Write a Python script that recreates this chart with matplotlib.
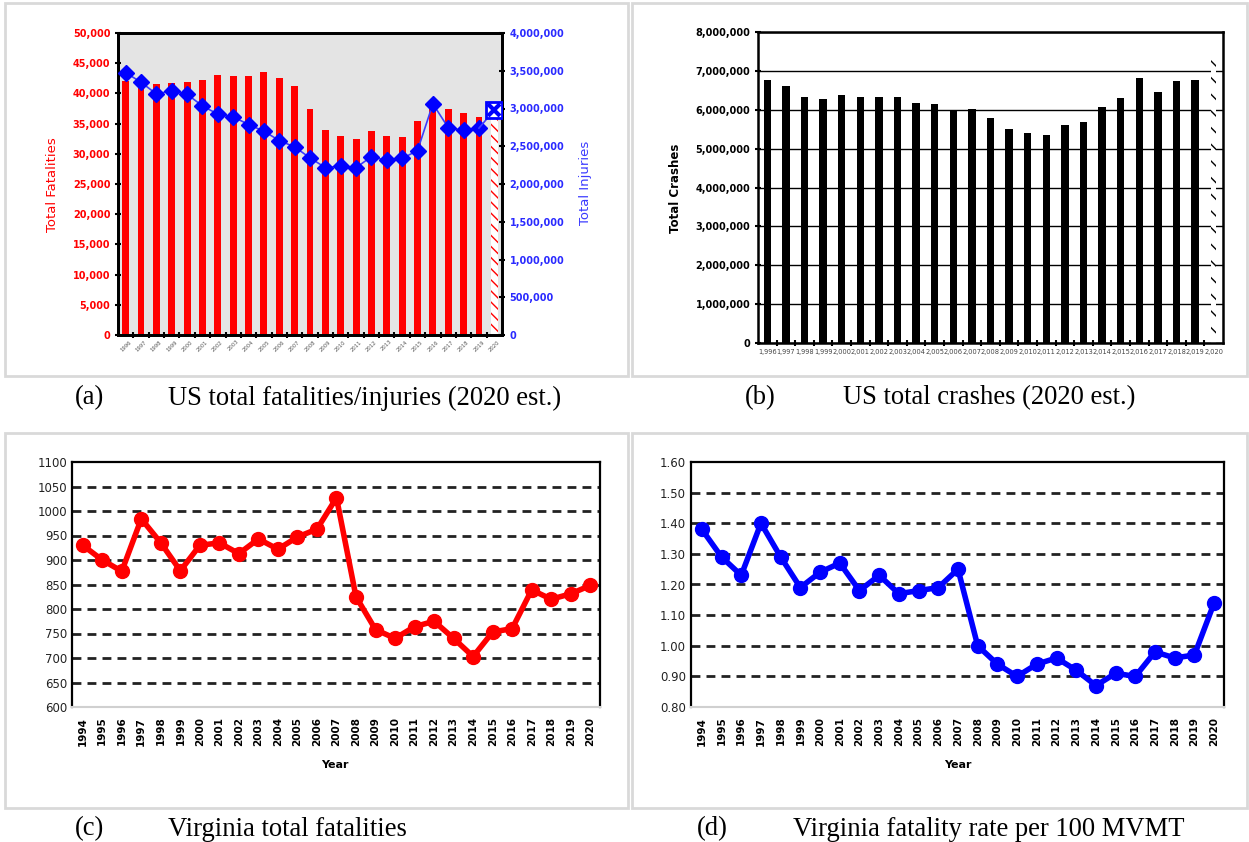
import matplotlib
matplotlib.use("Agg")
import matplotlib.pyplot as plt
from matplotlib.patches import Rectangle
from matplotlib.ticker import FuncFormatter, MultipleLocator, FixedLocator

# US national data, 1996-2020 (2020 is an estimate)
us_years = list(range(1996, 2021))
us_fatalities = [42000, 42000, 41500, 41700, 41900, 42200, 43000, 42800, 42800, 43500,
                 42600, 41300, 37400, 33900, 33000, 32500, 33800, 32900, 32700, 35500,
                 37500, 37500, 36800, 36100, 38000]
us_injuries = [3474000, 3348000, 3192000, 3236000, 3189000, 3033000, 2926000, 2889000,
               2788000, 2699000, 2575000, 2491000, 2346000, 2217000, 2239000, 2217000,
               2362000, 2313000, 2338000, 2443000, 3062000, 2746000, 2710000, 2740000,
               2980000]
us_crashes = [6770000, 6620000, 6330000, 6270000, 6390000, 6320000, 6320000, 6330000,
              6180000, 6160000, 5970000, 6020000, 5800000, 5500000, 5400000, 5340000,
              5610000, 5690000, 6060000, 6300000, 6820000, 6450000, 6730000, 6760000,
              7300000]

# Virginia data, 1994-2020
va_years = list(range(1994, 2021))
va_fatalities = [930, 900, 877, 984, 935, 878, 930, 935, 913, 943, 922, 947, 963, 1027,
                 825, 758, 740, 764, 775, 740, 703, 753, 760, 839, 820, 831, 848]
va_rate = [1.38, 1.29, 1.23, 1.40, 1.29, 1.19, 1.24, 1.27, 1.18, 1.23, 1.17, 1.18, 1.19,
           1.25, 1.00, 0.94, 0.90, 0.94, 0.96, 0.92, 0.87, 0.91, 0.90, 0.98, 0.96, 0.97,
           1.14]

captions = [("(a)", "US total fatalities/injuries (2020 est.)"),
            ("(b)", "US total crashes (2020 est.)"),
            ("(c)", "Virginia total fatalities"),
            ("(d)", "Virginia fatality rate per 100 MVMT")]

W, H = 1249, 842
fig = plt.figure(figsize=(W / 100, H / 100), dpi=100)
plt.rcParams['font.family'] = 'DejaVu Sans'


def px_axes(left, top, right, bottom):
    return fig.add_axes([left / W, 1 - bottom / H, (right - left) / W, (bottom - top) / H])


def comma(v, pos):
    return f"{int(v):,}"


# panel frames
for x0, y0, x1, y1 in [(5, 3, 628, 376), (632, 3, 1247, 376),
                       (5, 433, 628, 808), (632, 433, 1247, 808)]:
    fig.patches.append(Rectangle((x0 / W, 1 - y1 / H), (x1 - x0) / W, (y1 - y0) / H,
                                 transform=fig.transFigure, fill=False,
                                 edgecolor='#d9d9d9', linewidth=2))

# ---- (a) fatalities bars + injuries line
red = '#ff0000'
blue = '#0000ff'
n = len(us_years)
xs = list(range(n))
ax = px_axes(118, 33, 502, 335)
ax.set_facecolor('#e4e4e4')
ax.bar(xs[:-1], us_fatalities[:-1], width=0.45, color=red, zorder=2)
ax.bar(xs[-1], us_fatalities[-1], width=0.45, color='white', edgecolor=red,
       linewidth=0, hatch='\\\\\\', zorder=2)
ax.set_xlim(-0.5, n - 0.5)
ax.set_ylim(0, 50000)
ax.yaxis.set_major_locator(MultipleLocator(5000))
ax.yaxis.set_major_formatter(FuncFormatter(comma))
ax.tick_params(axis='y', colors=red, labelsize=7, width=1.5, length=4, direction='inout')
for t in ax.get_yticklabels():
    t.set_fontweight('bold')
ax.set_xticks(xs)
ax.set_xticklabels([str(y) for y in us_years], rotation=45, fontsize=3.8, color='#555555')
ax.tick_params(axis='x', length=0, pad=3)
ax.xaxis.set_minor_locator(FixedLocator([i + 0.5 for i in xs[:-1]]))
ax.tick_params(axis='x', which='minor', length=4, width=1.5, direction='inout')
for s in ax.spines.values():
    s.set_linewidth(2)

ax2 = ax.twinx()
ax2.plot(xs[:-1], us_injuries[:-1], color='#3c3cff', lw=1.2, marker='D', ms=8,
         mfc=blue, mec=blue, zorder=3)
ax2.plot(xs[-2:], us_injuries[-2:], color='#3c3cff', lw=1.2, zorder=3)
ax2.plot(xs[-1], us_injuries[-1], marker='s', ms=11, mfc='white', mec=blue, mew=2, zorder=4)
ax2.plot(xs[-1], us_injuries[-1], marker='x', ms=8, mec=blue, mew=3, zorder=5)
ax2.set_ylim(0, 4000000)
ax2.yaxis.set_major_locator(MultipleLocator(500000))
ax2.yaxis.set_major_formatter(FuncFormatter(comma))
ax2.tick_params(axis='y', colors='#2a2aff', labelsize=7, width=1.5, length=4,
                direction='inout')
ax2.tick_params(axis='y', which='both', color='black')
for t in ax2.get_yticklabels():
    t.set_fontweight('bold')
for s in ax2.spines.values():
    s.set_linewidth(2)
ax.tick_params(axis='y', color='black')
fig.text(52 / W, 1 - 185 / H, "Total Fatalities", rotation=90, color=red, fontsize=9.5,
         ha='center', va='center')
fig.text(586 / W, 1 - 183 / H, "Total Injuries", rotation=90, color='#3a3aff', fontsize=9.5,
         ha='center', va='center')

# ---- (b) crashes
bx = px_axes(758, 32, 1223, 343)
bx.bar(xs[:-1], us_crashes[:-1], width=0.4, color='black', zorder=2)
bx.bar(xs[-1], us_crashes[-1], width=0.3, color='white', edgecolor='black',
       linewidth=0, hatch='\\\\', zorder=2)
bx.set_xlim(-0.5, n - 0.5)
bx.set_ylim(0, 8000000)
bx.yaxis.set_major_locator(MultipleLocator(1000000))
bx.yaxis.set_major_formatter(FuncFormatter(comma))
bx.grid(axis='y', color='black', lw=1, zorder=1)
bx.tick_params(axis='y', labelsize=7, width=1.5, length=4, direction='inout')
for t in bx.get_yticklabels():
    t.set_fontweight('bold')
bx.set_xticks(xs)
bx.set_xticklabels([f"{y:,}" for y in us_years], fontsize=4.8, color='#444444')
bx.tick_params(axis='x', length=0, pad=4)
bx.xaxis.set_minor_locator(FixedLocator([i + 0.5 for i in xs[:-1]]))
bx.tick_params(axis='x', which='minor', length=4, width=1.5, direction='inout')
for s in bx.spines.values():
    s.set_linewidth(1.8)
fig.text(675 / W, 1 - 188 / H, "Total Crashes", rotation=90, color='black', fontsize=8.5,
         fontweight='bold', ha='center', va='center')


# ---- (c) and (d) Virginia line charts
def va_panel(rect, values, color, lo, hi, step, fmt, year_x):
    a = px_axes(*rect)
    vx = list(range(len(va_years)))
    k = lo + step
    while k < hi - step / 2:
        a.axhline(k, color='#222222', lw=2, linestyle=(0, (3.2, 2.2)), zorder=1)
        k += step
    a.plot(vx, values, color=color, lw=4, marker='o', ms=10, zorder=3)
    a.set_xlim(-0.55, len(va_years) - 0.5)
    a.set_ylim(lo, hi)
    a.yaxis.set_major_locator(MultipleLocator(step))
    a.yaxis.set_major_formatter(FuncFormatter(lambda v, p: fmt.format(v)))
    a.set_xticks(vx)
    a.set_xticklabels([str(y) for y in va_years], rotation=90, fontsize=7.5,
                      fontweight='bold')
    a.tick_params(axis='both', length=0)
    a.tick_params(axis='y', labelsize=8.5, labelcolor='#222222')
    a.tick_params(axis='x', pad=7, labelsize=7.5)
    for s in ['left', 'top', 'right']:
        a.spines[s].set_linewidth(1.6)
    a.spines['bottom'].set_color('#d0d0d0')
    a.spines['bottom'].set_linewidth(1.5)
    fig.text(year_x / W, 1 - 765 / H, "Year", fontsize=8, fontweight='bold',
             ha='center', va='center')
    return a


va_panel((72, 462, 600, 707), va_fatalities, red, 600, 1100, 50, "{:.0f}", 335)
va_panel((691, 462, 1224, 707), va_rate, blue, 0.80, 1.60, 0.10, "{:.2f}", 958)

# captions
for (tag, text), (tx, cx, cy) in zip(captions, [(75, 168, 398), (745, 843, 398),
                                                (75, 168, 829), (697, 793, 829)]):
    fig.text(tx / W, 1 - cy / H, tag, family='Liberation Serif', fontsize=19.2,
             ha='left', va='center')
    fig.text(cx / W, 1 - cy / H, text, family='Liberation Serif', fontsize=19.2,
             ha='left', va='center')

fig.savefig("out.png", dpi=100)
